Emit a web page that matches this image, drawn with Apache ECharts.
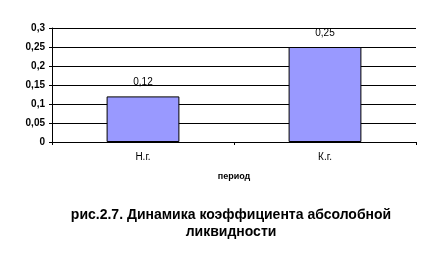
<!DOCTYPE html>
<html><head><meta charset="utf-8">
<script src="https://cdn.jsdelivr.net/npm/echarts@6/dist/echarts.min.js"></script>
<style>html,body{margin:0;padding:0;background:#fff}#c{width:428px;height:258px}</style>
</head><body><div id="c"></div>
<script>
const categories = ['Н.г.', 'К.г.'];
const values = [0.12, 0.25];
const yTicks = [0, 0.05, 0.1, 0.15, 0.2, 0.25, 0.3];
const fmt = v => String(Math.round(v * 100) / 100).replace('.', ',');
const chart = echarts.init(document.getElementById('c'), null, {renderer: 'canvas'});
chart.setOption({
  animation: false,
  title: {
    text: 'рис.2.7. Динамика коэффициента абсолобной\nликвидности',
    left: 226, top: 202, textAlign: 'center',
    textStyle: {fontFamily: 'Liberation Sans', fontSize: 14, fontWeight: 'bold', color: '#000', lineHeight: 17}
  },
  grid: {left: 52, right: 12, top: 28, bottom: 116, containLabel: false},
  xAxis: {
    type: 'category', data: categories,
    name: 'период', nameLocation: 'middle', nameGap: 30,
    nameTextStyle: {fontFamily: 'Liberation Sans', fontSize: 9, fontWeight: 'bold', color: '#000'},
    axisLine: {lineStyle: {color: '#000', width: 1}},
    axisTick: {show: true, length: 3, alignWithLabel: false, lineStyle: {color: '#000'}},
    axisLabel: {fontFamily: 'Liberation Sans', fontSize: 10, color: '#000', margin: 10}
  },
  yAxis: {
    type: 'value', min: 0, max: 0.3, interval: 0.05,
    axisLine: {show: true, lineStyle: {color: '#000', width: 1}},
    axisTick: {show: true, length: 3, lineStyle: {color: '#000'}},
    splitLine: {show: true, lineStyle: {color: '#000', width: 1}},
    axisLabel: {fontFamily: 'Liberation Sans', fontSize: 10, fontWeight: 'bold', color: '#000', margin: 7,
      formatter: v => fmt(v)}
  },
  series: [{
    type: 'bar', data: values, barWidth: '40%',
    itemStyle: {color: '#9999FF', borderColor: '#000', borderWidth: 1},
    label: {show: true, position: 'top', distance: 9, fontFamily: 'Liberation Sans', fontSize: 10, color: '#000',
      formatter: p => fmt(p.value)}
  }]
});
</script></body></html>
